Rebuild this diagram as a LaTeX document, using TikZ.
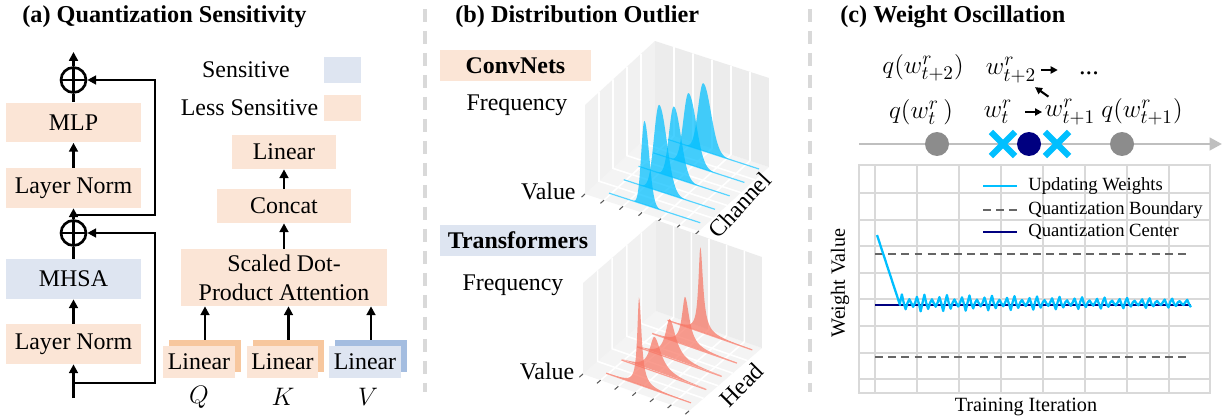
\documentclass[tikz,border=0pt]{standalone}
\usepackage{fontspec}
\setmainfont{Liberation Serif}
\usetikzlibrary{arrows.meta,positioning,shapes.misc}
\definecolor{lessorange}{RGB}{251,229,214}
\definecolor{sensblue}{RGB}{222,229,241}
\definecolor{linorange}{RGB}{247,199,158}
\definecolor{linblue}{RGB}{164,189,224}
\definecolor{oscblue}{RGB}{0,191,255}
\definecolor{peakred}{RGB}{247,118,100}
\definecolor{centernavy}{RGB}{0,0,128}
\definecolor{sepgray}{RGB}{217,217,217}
\definecolor{wallgray}{RGB}{236,236,236}

\begin{document}
\begin{tikzpicture}[x=0.02cm,y=-0.02cm,
    txt/.style={font=\fontsize{13.6}{16.5}\selectfont,inner sep=0pt},
    ttl/.style={font=\fontsize{13.8}{16}\selectfont\bfseries,inner sep=0pt,anchor=west},
    box/.style={txt,minimum width=2.7cm,minimum height=0.8cm,align=center},
    less/.style={box,fill=lessorange},
    sens/.style={box,fill=sensblue},
    lin/.style={txt,minimum width=1.44cm,minimum height=0.64cm},
    swatch/.style={minimum width=0.74cm,minimum height=0.53cm,inner sep=0pt},
    tag/.style={txt,font=\fontsize{13.6}{16}\selectfont\bfseries,minimum height=0.62cm},
    mth/.style={font=\fontsize{15}{18}\selectfont,inner sep=0pt},
    arr/.style={-{Triangle[length=5pt,width=5pt]},line width=1.5pt},
    arrs/.style={-{Triangle[length=4pt,width=4pt]},line width=1.2pt},
    ln/.style={line width=1.5pt},
    addop/.style={circle,draw,line width=1.5pt,minimum size=0.5cm,inner sep=0pt,
      path picture={\draw[line width=1.5pt]
        (path picture bounding box.north)--(path picture bounding box.south)
        (path picture bounding box.west)--(path picture bounding box.east);}},
    sep/.style={sepgray,line width=2.2pt,dash pattern=on 0.26cm off 0.18cm},
    histframe/.pic={
      \fill[wallgray!60] (0,0,0) -- (1,0,0) -- (1,1,0) -- (0,1,0) -- cycle;
      \fill[wallgray] (0,1,0) -- (1,1,0) -- (1,1,1) -- (0,1,1) -- cycle;
      \fill[wallgray!75] (0,0,0) -- (0,1,0) -- (0,1,1) -- (0,0,1) -- cycle;
      \foreach \u in {1,...,5}
        \draw[white,line width=0.9pt] (\u/6,0,0) -- (\u/6,1,0) -- (\u/6,1,1);
      \foreach \s in {1,...,4}
        \draw[white,line width=0.9pt] (0,\s/5,1) -- (0,\s/5,0) -- (1,\s/5,0);
      \foreach \u in {0,...,6}
        \draw[black!65,line width=0.6pt] (\u/6,0,0) -- (\u/6,-0.05,0);
    },
    convpk/.style={fill=oscblue,fill opacity=0.72},
    headpk/.style={fill=peakred,fill opacity=0.72},
    numln/.style={draw=black!25,line width=1.7pt,-{Triangle[length=7pt,width=7pt]}},
    qpt/.style={circle,fill=black!45,minimum size=0.48cm,inner sep=0pt},
    xmk/.style={cross out,draw=oscblue,line width=3.5pt,minimum size=0.36cm,inner sep=0pt},
    chgrid/.style={draw=sepgray,line width=1.1pt},
    bnd/.style={black!60,line width=1.1pt,dash pattern=on 4.5pt off 3pt},
    ctr/.style={centernavy,line width=1.1pt},
    osc/.style={oscblue,line width=1.3pt,line join=round},
    lg/.style={font=\fontsize{10.6}{12}\selectfont,inner sep=0pt,anchor=west},
    axl/.style={font=\fontsize{11.5}{13}\selectfont,inner sep=0pt},
  ]
  \fill[white] (0,0) rectangle (1225,419);
  \useasboundingbox (0,0) rectangle (1225,419);

  % (a) quantization sensitivity
  \node[ttl] (ttla) at (22,17) {(a) Quantization Sensitivity};
  \node[less] (mlp) at (73.5,122.5) {MLP};
  \node[less] (ln2) at (73.5,188) {Layer Norm};
  \node[sens] (mhsa) at (73.5,279) {MHSA};
  \node[less] (ln1) at (73.5,344) {Layer Norm};
  \node[addop] (add2) at (73.5,80) {};
  \node[addop] (add1) at (73.5,233) {};
  \coordinate (out) at (73.5,52);
  \coordinate (in) at (73.5,398);
  \coordinate (br1) at (73.5,383);
  \coordinate (sk1) at (155,383);
  \coordinate (br2) at (73.5,215);
  \coordinate (sk2) at (155,215);
  \draw[arr] (in) -- (ln1);
  \draw[arr] (ln1) -- (mhsa);
  \draw[ln] (mhsa) -- (add1);
  \draw[arr] (add1) -- (ln2);
  \draw[arr] (ln2) -- (mlp);
  \draw[ln] (mlp) -- (add2);
  \draw[arr] (add2) -- (out);
  \draw[arr] (br1) -- (sk1) |- (add1);
  \draw[arr] (br2) -- (sk2) |- (add2);

  \node[txt] (senslbl) at (246,70) {Sensitive};
  \node[swatch,fill=sensblue] (senssw) at (342.5,70) {};
  \node[txt] (lesslbl) at (249.5,108) {Less Sensitive};
  \node[swatch,fill=lessorange] (lesssw) at (342.5,108) {};

  \node[less,minimum width=2.1cm,minimum height=0.68cm] (outlin) at (284,152) {Linear};
  \node[less,minimum height=0.68cm] (concat) at (284,206) {Concat};
  \node[less,minimum width=4.12cm,minimum height=1.14cm] (sdpa) at (284,277.5)
    {Scaled Dot-\\Product Attention};
  \node[lin,fill=linorange] (linqb) at (205,356) {};
  \node[lin,fill=lessorange] (linq) at (199,362) {Linear};
  \node[lin,fill=linorange] (linkb) at (288.5,356) {};
  \node[lin,fill=lessorange] (link) at (282.5,362) {Linear};
  \node[lin,fill=linblue] (linvb) at (371,356) {};
  \node[lin,fill=sensblue] (linv) at (365,362) {Linear};
  \draw[arr] (sdpa) -- (concat);
  \draw[arr] (concat) -- (outlin);
  \draw[arr] (linqb) -- (linqb |- sdpa.south);
  \draw[arr] (linkb) -- (linkb |- sdpa.south);
  \draw[arr] (linvb) -- (linvb |- sdpa.south);
  \node[mth] (qlbl) at (199,397) {$Q$};
  \node[mth] (klbl) at (283,397) {$K$};
  \node[mth] (vlbl) at (368,397) {$V$};

  \draw[sep] (425,9) -- (425,392);
  \draw[sep] (810,9) -- (810,392);

  % (b) distribution outlier
  \node[ttl] (ttlb) at (455,17) {(b) Distribution Outlier};
  \node[tag,fill=lessorange,minimum width=3.02cm] (cnn) at (515.5,65.5) {ConvNets};
  \node[txt] (cfreq) at (517,105) {Frequency};
  \begin{scope}[shift={(585,194)},x={(2.28cm,-0.74cm)},y={(1.40cm,1.28cm)},z={(0cm,1.78cm)}]
    \pic {histframe};
    \foreach \s/\h/\w in {0.94/0.76/0.045,0.73/0.8/0.045,0.52/0.8/0.042,0.31/0.97/0.045,0.1/0.94/0.028} {
      \draw[oscblue!60,line width=0.7pt] (0.15,\s,0) -- (0.95,\s,0);
      \fill[convpk] plot[domain=0.15:0.95,samples=161]
        (\x,\s,{\h*exp(-((\x-0.46)/(\w*(1+0.5*(\x>0.46))))^2/2)}) -- cycle;
    }
    \node[txt,anchor=east] (cvalue) at (-0.08,0,0) {Value};
    \node[txt,rotate=47] (cchan) at (1.08,0.45,0) {Channel};
  \end{scope}

  \node[tag,fill=sensblue,minimum width=3.12cm] (vit) at (518,240.5) {Transformers};
  \node[txt] (tfreq) at (513,285) {Frequency};
  \begin{scope}[shift={(583,374)},x={(2.12cm,-0.74cm)},y={(1.46cm,1.26cm)},z={(0cm,1.82cm)}]
    \pic {histframe};
    \foreach \s/\h/\w in {0.94/0.93/0.022,0.73/0.53/0.035,0.52/0.43/0.05,0.31/0.38/0.055,0.1/0.96/0.02} {
      \draw[peakred!70,line width=0.7pt] (0.15,\s,0) -- (0.95,\s,0);
      \fill[headpk] plot[domain=0.15:0.95,samples=161]
        (\x,\s,{\h/(1+((\x-0.46)/(\w*(1+0.4*(\x>0.46))))^2)}) -- cycle;
    }
    \node[txt,anchor=east] (tvalue) at (-0.08,0,0) {Value};
    \node[txt,rotate=45] (thead) at (1.15,0.5,0) {Head};
  \end{scope}

  % (c) weight oscillation
  \node[ttl] (ttlc) at (840,17) {(c) Weight Oscillation};
  \coordinate (nl0) at (859,144);
  \coordinate (nl1) at (1222,144);
  \draw[numln] (nl0) -- (nl1);
  \node[qpt] (qa) at (937,144) {};
  \node[qpt] (qb) at (1122,144) {};
  \node[qpt,fill=centernavy] (qc) at (1029,144) {};
  \node[xmk] (xa) at (1003,144) {};
  \node[xmk] (xb) at (1057,144) {};
  \node[mth] (qt) at (921,112) {$q(w_t^r\,)$};
  \node[mth] (wt) at (998,112) {$w_t^r$};
  \node[mth] (wt1) at (1070,112) {$w_{t+1}^r$};
  \node[mth] (qt1) at (1142,112) {$q(w_{t+1}^r)$};
  \node[mth] (qt2) at (923,68) {$q(w_{t+2}^r)$};
  \node[mth] (wt2) at (1011,70) {$w_{t+2}^r$};
  \node[mth] (dots) at (1089,73) {...};
  \draw[arrs,shorten <=0.25cm,shorten >=0.05cm] (wt) -- (wt1);
  \draw[arrs,shorten <=0.1cm,shorten >=0.42cm] (wt2.east) -- (wt2.east -| dots.west);
  \draw[arrs,shorten <=0.53cm,shorten >=0.59cm] (wt1.center) -- (wt2.center);

  \draw[chgrid] (859,165) rectangle (1210,393);
  \foreach \gx in {875,917,959,1001,1043,1085,1127,1169}
    \draw[chgrid] (\gx,165) -- (\gx,393);
  \foreach \k in {0,...,7}
    \draw[chgrid] (859,{193+26.6*\k}) -- (1210,{193+26.6*\k});
  \draw[bnd] (875,254) -- (1191,254);
  \draw[bnd] (875,357) -- (1191,357);
  \draw[ctr] (875,305) -- (1191,305);
  \draw[osc] (877,235) -- (900,305) -- plot[domain=0:29.1,samples=156]
    ({900+10*\x},{303-(9-4.5*\x/29.1)*sin(480*\x)*(0.7+0.3*cos(160*\x))});
  \draw[osc] (983,186) -- (1017,186);
  \node[lg] (lgosc) at (1028,186) {Updating Weights};
  \draw[bnd] (983,210) -- (1017,210);
  \node[lg] (lgbnd) at (1028,210) {Quantization Boundary};
  \draw[ctr] (983,232) -- (1017,232);
  \node[lg] (lgctr) at (1028,232) {Quantization Center};
  \node[axl,rotate=90] (ylab) at (840,283) {Weight Value};
  \node[axl] (xlab) at (1026,407) {Training Iteration};
\end{tikzpicture}
\end{document}
